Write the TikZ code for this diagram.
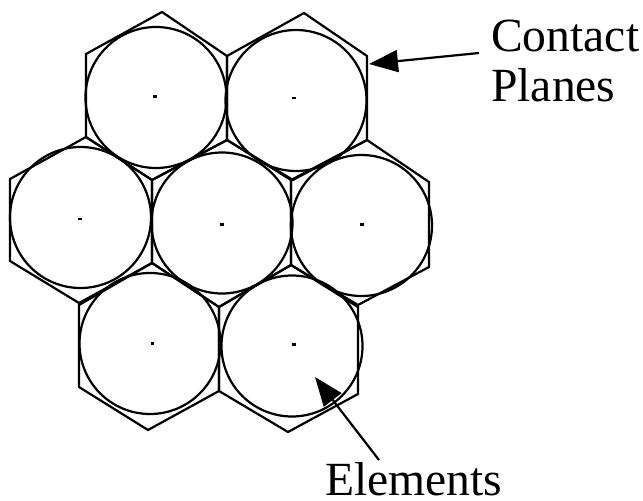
\documentclass[tikz,border=0pt]{standalone}
\usepackage{fontspec}
\setmainfont{Liberation Serif}
\usetikzlibrary{arrows.meta}
\tikzset{
  hexcell/.style={draw=black,line width=2.2pt,line join=miter},
  elem/.style={circle,draw=black,line width=2.2pt,inner sep=0pt,minimum size=141pt},
  centre/.style={fill=black,draw=none,inner sep=0pt,minimum width=3.2pt,minimum height=2.4pt,rectangle},
  lbl/.style={anchor=base west,inner sep=0pt,font=\fontsize{47.6pt}{47.6pt}\selectfont},
  pointer/.style={draw=black,line width=2.2pt,-{Triangle[length=29pt,width=22pt]}}
}
\begin{document}
\begin{tikzpicture}[x=1pt,y=-1pt]
\useasboundingbox (0,0) rectangle (643,501);
% hexagons
\draw[hexcell] (162,12)--(227,56)--(227,140)--(152,180)--(86,137)--(86,54)--cycle;
\draw[hexcell] (304,13)--(367,56)--(367,140)--(293,180)--(227,140)--(227,56)--cycle;
\draw[hexcell] (86,137)--(152,180)--(152,263)--(79,303)--(10,261)--(10,179)--cycle;
\draw[hexcell] (227,140)--(291,180)--(291,265)--(219,307)--(152,263)--(152,180)--cycle;
\draw[hexcell] (367,140)--(429,182)--(429,267)--(358,305)--(291,265)--(291,180)--cycle;
\draw[hexcell] (152,263)--(219,307)--(219,391)--(148,430)--(79,387)--(79,305)--cycle;
\draw[hexcell] (291,265)--(358,307)--(358,394)--(288,432)--(219,391)--(219,307)--cycle;
% circles
\node[elem] (c1) at (156,97.5) {};
\node[elem] (c2) at (296,100.5) {};
\node[elem] (c3) at (80.5,217.5) {};
\node[elem] (c4) at (222,223) {};
\node[elem] (c5) at (361.5,225.5) {};
\node[elem] (c6) at (150,343.5) {};
\node[elem] (c7) at (292,346) {};
% centre dots
\node[centre] (d1) at (155,96.5) {};
\node[centre] (d2) at (294,98) {};
\node[centre] (d3) at (80,219) {};
\node[centre] (d4) at (222,224.5) {};
\node[centre] (d5) at (362,224.5) {};
\node[centre] (d6) at (152.5,343.5) {};
\node[centre] (d7) at (294,344.5) {};
% labels
\node[lbl] (contact) at (491,51) {Contact};
\node[lbl] (planes) at (491,101.5) {Planes};
\node[lbl] (elements) at (325,495) {Elements};
% arrows
\coordinate (a1s) at (479,53);
\coordinate (a1e) at (369,64);
\coordinate (a2s) at (379,460);
\coordinate (a2e) at (315,377);
\draw[pointer] (a1s) -- (a1e);
\draw[pointer] (a2s) -- (a2e);
\end{tikzpicture}
\end{document}
